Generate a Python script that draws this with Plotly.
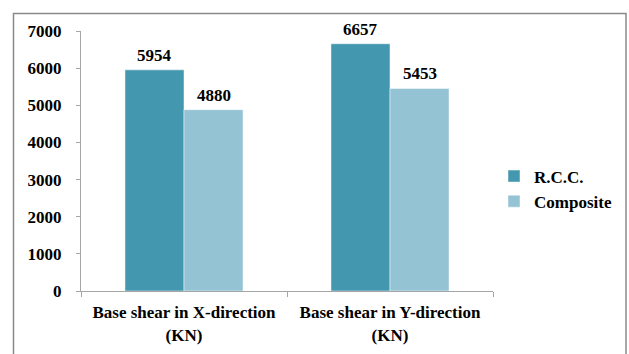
import plotly.graph_objects as go

categories = ["Base shear in X-direction<br>(KN)", "Base shear in Y-direction<br>(KN)"]
series_names = ["R.C.C.", "Composite"]
rcc_values = [5954, 6657]
composite_values = [4880, 5453]
y_ticks = [0, 1000, 2000, 3000, 4000, 5000, 6000, 7000]

colors = ["#4398AF", "#94C3D4"]
serif = "Times New Roman, Liberation Serif, serif"
font_size = 17
bold = dict(family=serif, size=font_size, color="black", weight="bold")

fig = go.Figure()
for name, vals, col in zip(series_names, [rcc_values, composite_values], colors):
    fig.add_trace(go.Bar(
        x=categories, y=vals, name=name,
        marker=dict(color=col, line=dict(color="rgba(255,255,255,0.6)", width=0.8)),
    ))

# value labels above each bar
offsets = [-29.5, 29.5]
for vals, dx in zip([rcc_values, composite_values], offsets):
    for cat, v in zip(categories, vals):
        fig.add_annotation(
            x=cat, y=v, text=str(v), showarrow=False,
            xshift=dx, yanchor="bottom", yshift=3, font=bold,
        )

# outer chart border
L, R, T, B = 81, 493, 31, 291
W, H = R - L, B - T
def px(x): return (x - L) / W
def py(y): return (B - y) / H
fig.add_shape(type="rect", xref="paper", yref="paper",
              x0=px(13.5), x1=px(626), y0=py(360), y1=py(13.5),
              line=dict(color="#8A8A8A", width=1.5), fillcolor="rgba(0,0,0,0)")

fig.update_layout(
    width=629, height=354,
    margin=dict(l=L, r=629 - R, t=T, b=354 - B, autoexpand=False),
    paper_bgcolor="white", plot_bgcolor="white",
    barmode="group", bargap=0.427, bargroupgap=0,
    font=bold,
    showlegend=True,
    legend=dict(x=px(494), xanchor="left", y=py(189), yanchor="middle",
                font=bold, itemwidth=30, tracegroupgap=0, bgcolor="rgba(0,0,0,0)"),
    xaxis=dict(showline=True, linecolor="#A6A6A6", linewidth=1, automargin=False,
               ticks="outside", tickson="boundaries", ticklen=5, tickcolor="#A6A6A6",
               showgrid=False, zeroline=False, ticklabelstandoff=6, tickfont=bold),
    yaxis=dict(range=[0, 7000], tickvals=y_ticks, showline=True, linecolor="#A6A6A6",
               linewidth=1, ticks="outside", ticklen=4, tickcolor="#A6A6A6", automargin=False,
               showgrid=False, zeroline=False, ticklabelstandoff=11, tickfont=bold),
)

fig.write_html("out.html")
